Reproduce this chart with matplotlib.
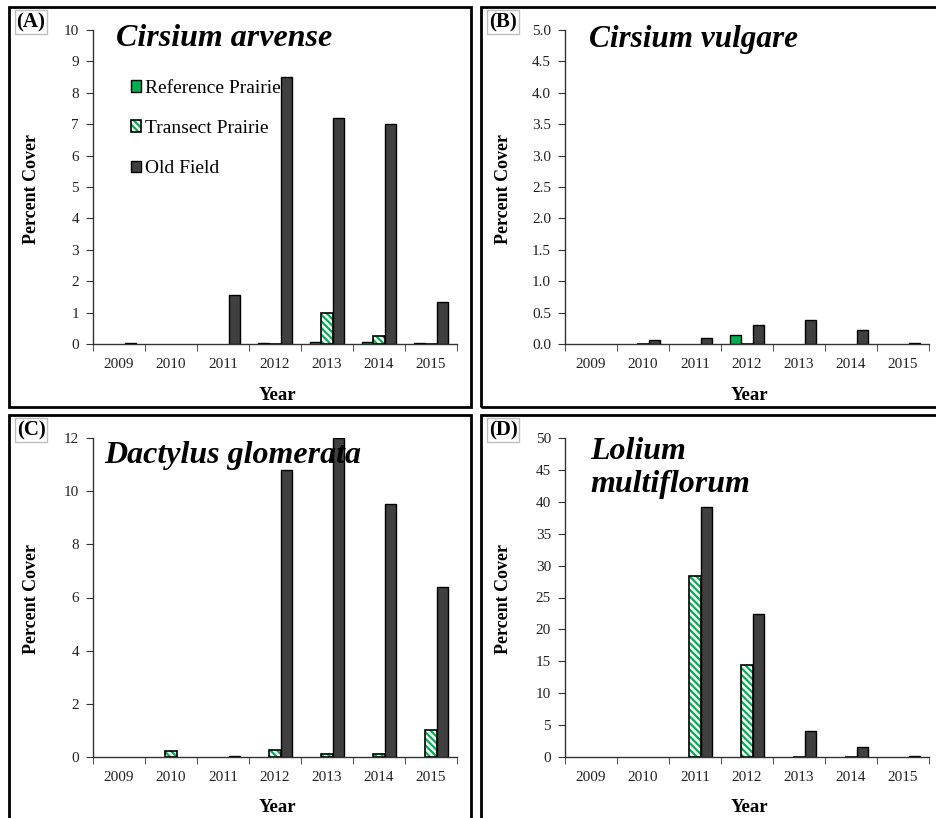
import numpy as np
import matplotlib
matplotlib.use("Agg")
import matplotlib.pyplot as plt
from matplotlib.patches import Patch, Rectangle
from matplotlib.legend_handler import HandlerTuple

plt.rcParams['font.family'] = ['Liberation Serif', 'DejaVu Serif']
plt.rcParams['hatch.linewidth'] = 1.6

nan = np.nan
years = ['2009', '2010', '2011', '2012', '2013', '2014', '2015']
series = ['Reference Prairie', 'Transect Prairie', 'Old Field']

# (A) Cirsium arvense
a_ref = [nan, nan, nan, 0.02, 0.05, 0.05, 0.02]
a_trans = [nan, nan, nan, 0.0, 1.0, 0.25, 0.0]
a_old = [0.02, nan, 1.55, 8.5, 7.2, 7.0, 1.35]

# (B) Cirsium vulgare
b_ref = [nan, nan, nan, 0.15, nan, nan, nan]
b_trans = [nan, 0.0, nan, 0.0, nan, nan, nan]
b_old = [nan, 0.07, 0.1, 0.3, 0.39, 0.22, 0.01]

# (C) Dactylus glomerata
c_ref = [nan] * 7
c_trans = [nan, 0.22, nan, 0.27, 0.12, 0.12, 1.02]
c_old = [nan, nan, 0.03, 10.78, 12.0, 9.5, 6.4]

# (D) Lolium multiflorum
d_ref = [nan] * 7
d_trans = [nan, nan, 28.4, 14.4, 0.0, 0.0, nan]
d_old = [nan, nan, 39.2, 22.4, 4.15, 1.6, 0.15]

W, H = 936, 818
GREEN = '#00b050'
DARK = '#404040'


def fx(x):
    return x / W


def fy(y):
    return 1 - y / H


fig = plt.figure(figsize=(W / 100, H / 100), dpi=100)

# panel frames
for (x0, y0, x1, y1) in [(9, 7, 471, 407), (481, 7, 940, 407),
                         (9, 415, 471, 822), (481, 415, 940, 822)]:
    fig.patches.append(Rectangle((fx(x0), fy(y1)), fx(x1 - x0), (y1 - y0) / H,
                                 transform=fig.transFigure, fill=False,
                                 edgecolor='black', linewidth=2))

panels = [
    dict(tag='(A)', name='Cirsium arvense', ref=a_ref, trans=a_trans, old=a_old,
         box=(93, 30, 457, 344), ymax=10, step=1, fmt='{:.0f}', ox=0),
    dict(tag='(B)', name='Cirsium vulgare', ref=b_ref, trans=b_trans, old=b_old,
         box=(565, 30, 929, 344), ymax=5, step=0.5, fmt='{:.1f}', ox=472),
    dict(tag='(C)', name='Dactylus glomerata', ref=c_ref, trans=c_trans, old=c_old,
         box=(93, 438, 457, 757), ymax=12, step=2, fmt='{:.0f}', ox=0),
    dict(tag='(D)', name='Lolium\nmultiflorum', ref=d_ref, trans=d_trans, old=d_old,
         box=(565, 438, 929, 757), ymax=50, step=5, fmt='{:.0f}', ox=472),
]

x = np.arange(len(years))
w = 0.22

for i, p in enumerate(panels):
    l, t, r, b = p['box']
    ax = fig.add_axes([fx(l), fy(b), (r - l) / W, (b - t) / H])
    ax.bar(x - w, p['ref'], w, color=GREEN, edgecolor='black', linewidth=1)
    ax.bar(x, p['trans'], w, color='white', edgecolor=GREEN, hatch='\\\\\\\\\\',
           linewidth=0)
    ax.bar(x, p['trans'], w, color='none', edgecolor='black', linewidth=1.2)
    ax.bar(x + w, p['old'], w, color=DARK, edgecolor='black', linewidth=1)

    ax.set_xlim(-0.5, 6.5)
    ax.set_ylim(0, p['ymax'])
    ticks = np.arange(0, p['ymax'] + p['step'] / 2, p['step'])
    ax.set_yticks(ticks)
    ax.set_yticklabels([p['fmt'].format(v) for v in ticks])
    ax.set_xticks(x)
    ax.set_xticklabels(years)
    ax.set_xticks(np.arange(-0.5, 7, 1), minor=True)
    ax.tick_params(axis='x', which='major', length=0, pad=10, labelsize=11,
                   colors='#222222')
    ax.tick_params(axis='x', which='minor', length=5, direction='out',
                   color='#333333')
    ax.tick_params(axis='y', length=5, direction='out', pad=5, labelsize=11,
                   color='#333333', labelcolor='#222222')
    for s in ['top', 'right']:
        ax.spines[s].set_visible(False)
    for s in ['left', 'bottom']:
        ax.spines[s].set_color('#333333')
        ax.spines[s].set_linewidth(1)

    ox = p['ox']
    oy = 0 if i < 2 else 408
    # panel tag in light grey box
    fig.text(fx(ox + 31), fy(oy + 22), p['tag'], fontsize=15, fontweight='bold',
             ha='center', va='center',
             bbox=dict(boxstyle='square,pad=0.08', facecolor='white',
                       edgecolor='#bfbfbf', linewidth=1))
    # species name
    if i == 3:
        fig.text(fx(ox + 118), fy(oy + 29), p['name'], fontsize=23,
                 fontweight='bold', style='italic', ha='left', va='top',
                 linespacing=1.2)
    else:
        tx = {0: 116, 1: 117, 2: 104}[i]
        size = 22.5 if i == 1 else 23
        fig.text(fx(ox + tx), fy(oy + 39 + (8 if i == 2 else 0)), p['name'],
                 fontsize=size, fontweight='bold', style='italic', ha='left',
                 va='center')
    # axis titles
    fig.text(fx(ox + 32), fy((t + b) / 2 + 2),
             'Percent Cover', fontsize=13, fontweight='bold', rotation=90,
             ha='center', va='center')
    fig.text(fx((l + r) / 2 + 2), fy(b + 51), 'Year', fontsize=13.5,
             fontweight='bold', ha='center', va='center')

    if i == 0:
        handles = [
            Patch(facecolor=GREEN, edgecolor='black', linewidth=1),
            (Patch(facecolor='white', edgecolor=GREEN, hatch='\\\\\\\\\\', linewidth=0),
             Patch(facecolor='none', edgecolor='black', linewidth=1.2)),
            Patch(facecolor=DARK, edgecolor='black', linewidth=1),
        ]
        ax.legend(handles, series, loc='upper left',
                  bbox_to_anchor=(fx(123), fy(72)),
                  bbox_transform=fig.transFigure, frameon=False, fontsize=14,
                  handlelength=0.55, handleheight=0.55, handletextpad=0.2,
                  labelspacing=1.2, borderaxespad=0,
                  handler_map={tuple: HandlerTuple(ndivide=1)})

fig.savefig('out.png', dpi=100)
